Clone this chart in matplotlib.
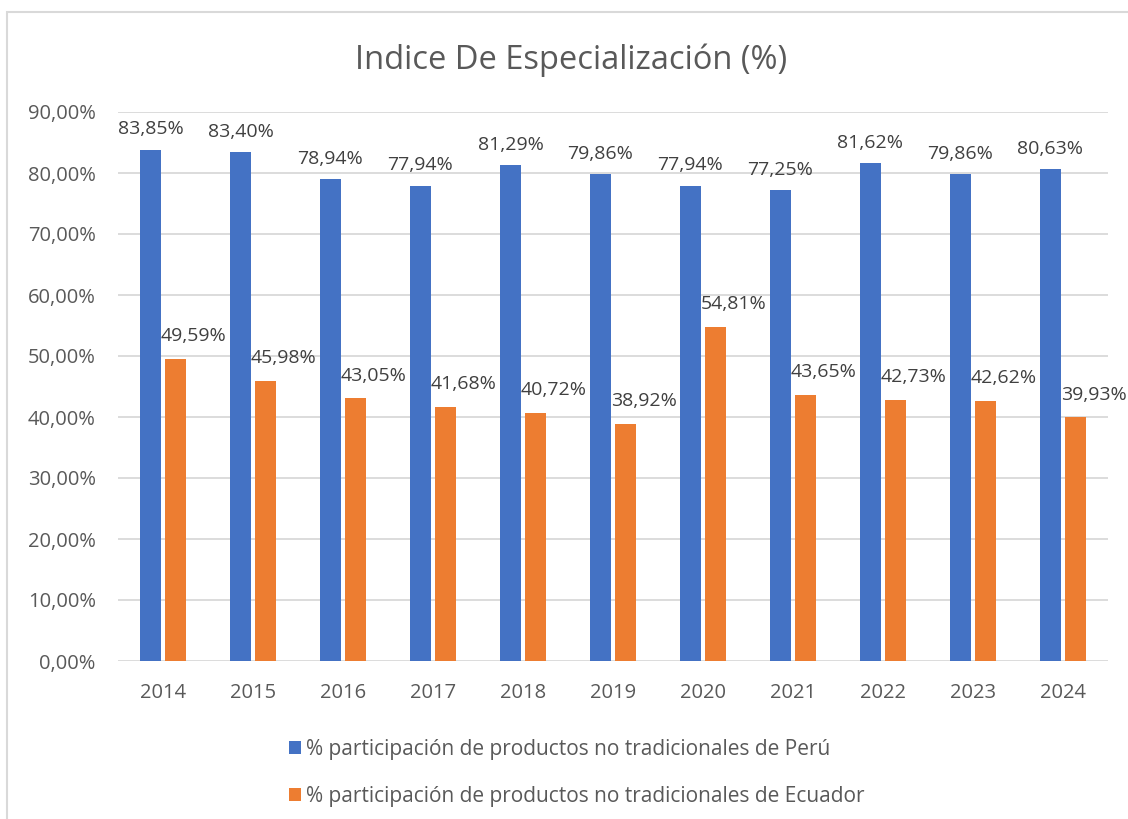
import matplotlib
matplotlib.use("Agg")
import matplotlib.pyplot as plt
from matplotlib.patches import Rectangle
from matplotlib.ticker import FuncFormatter
import numpy as np

# data
years = ['2014', '2015', '2016', '2017', '2018', '2019', '2020', '2021', '2022', '2023', '2024']
peru = [83.85, 83.40, 78.94, 77.94, 81.29, 79.86, 77.94, 77.25, 81.62, 79.86, 80.63]
ecuador = [49.59, 45.98, 43.05, 41.68, 40.72, 38.92, 54.81, 43.65, 42.73, 42.62, 39.93]
label_peru = '% participación de productos no tradicionales de Perú'
label_ecuador = '% participación de productos no tradicionales de Ecuador'
title = 'Indice De Especialización (%)'

blue = '#4472C4'
orange = '#ED7D31'
grey_text = '#595959'

plt.rcParams['font.family'] = ['Open Sans', 'DejaVu Sans']

fig = plt.figure(figsize=(11.28, 8.19), dpi=100)
ax = fig.add_axes([118 / 1128, 1 - 661 / 819, 990 / 1128, 549 / 819])

x = np.arange(len(years))
w = 0.233
off = 0.139
b1 = ax.bar(x - off, peru, w, color=blue, label=label_peru, zorder=3)
b2 = ax.bar(x + off, ecuador, w, color=orange, label=label_ecuador, zorder=3)

fmt = lambda v: f"{v:.2f}%".replace('.', ',')
for xi, v in zip(x, peru):
    ax.annotate(fmt(v), (xi - off, v), xytext=(0, 8), textcoords='offset points',
                ha='center', va='bottom', fontsize=14, color='#404040')
for xi, v in zip(x, ecuador):
    ax.annotate(fmt(v), (xi + off + 0.2, v), xytext=(0, 10), textcoords='offset points',
                ha='center', va='bottom', fontsize=14, color='#404040')

ax.set_xlim(-0.5, len(years) - 0.5)
ax.set_ylim(0, 90)
ax.set_yticks(np.arange(0, 91, 10))
ax.yaxis.set_major_formatter(FuncFormatter(lambda v, p: fmt(v)))
ax.set_xticks(x)
ax.set_xticklabels(years)
ax.tick_params(axis='both', length=0, labelsize=14.5, colors=grey_text)
ax.tick_params(axis='y', pad=16)
ax.tick_params(axis='x', pad=16)
ax.grid(axis='y', color='#D9D9D9', linewidth=1.3, zorder=0)
for s in ax.spines.values():
    s.set_visible(False)

fig.text(571 / 1128, 1 - 60 / 819, title, ha='center', va='center', fontsize=23.5, color=grey_text)

fig.legend(handles=[b1, b2], loc='upper left', bbox_to_anchor=(270 / 1128, 1 - 720 / 819),
           frameon=False, fontsize=15, handlelength=0.6, handleheight=0.6,
           handletextpad=0.25, labelspacing=1.25, labelcolor=grey_text)

# chart border (light grey, cropped on the right and bottom)
fig.patches.append(Rectangle((6.5 / 1128, -0.1), 1.2, 1 - 12.5 / 819 + 0.1, transform=fig.transFigure,
                             fill=False, edgecolor='#D9D9D9', linewidth=1.5))

fig.savefig('out.png', dpi=100)
